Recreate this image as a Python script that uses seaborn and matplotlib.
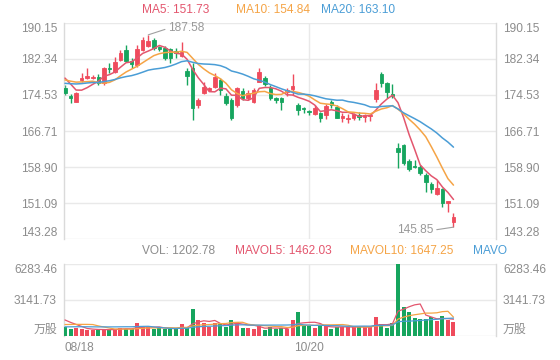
import numpy as np
import pandas as pd
import matplotlib
matplotlib.use("Agg")
import matplotlib.pyplot as plt
import seaborn as sns

# ---------------- data ----------------
opens = [176.12, 174.32, 173.09, 177.78, 178.15, 178.15, 178.51, 177.06, 180.46, 179.59,
         182.12, 184.29, 181.91, 181.04, 184.29, 185.23, 186.46, 185.02, 184.80, 184.51,
         184.08, 183.06, 179.74, 180.32, 172.36, 174.89, 175.62, 176.34, 177.78, 174.39,
         173.45, 172.36, 175.40, 173.81, 173.09, 177.42, 178.15, 175.98, 173.81, 173.81,
         175.20, 175.83, 172.36, 171.64, 171.06, 170.34, 170.70, 170.19, 173.09, 172.00,
         169.62, 169.33, 169.47, 170.19, 169.83, 170.05, 173.66, 179.02, 177.06, 174.68,
         163.11, 163.69, 160.22, 159.20, 158.99, 157.18, 155.15, 152.99, 154.14, 151.03,
         147.06]
closes = [174.89, 173.81, 174.89, 178.29, 178.73, 178.51, 177.06, 180.32, 180.10, 181.62,
          183.71, 181.91, 181.18, 184.51, 186.46, 186.25, 184.65, 184.51, 182.49, 182.49,
          183.71, 183.93, 178.73, 171.64, 173.45, 176.34, 176.12, 178.51, 175.62, 172.72,
          169.47, 175.98, 173.81, 174.89, 175.62, 179.59, 176.85, 173.81, 173.45, 173.09,
          175.70, 176.56, 171.28, 171.50, 170.77, 171.64, 169.62, 172.22, 172.36, 169.62,
          170.05, 169.62, 170.34, 169.83, 170.19, 170.19, 175.62, 177.06, 175.11, 174.39,
          162.10, 159.71, 158.48, 158.99, 157.54, 155.73, 154.14, 154.43, 151.03, 151.54,
          148.14]
highs = [176.70, 174.68, 175.26, 179.23, 180.32, 178.87, 179.02, 180.68, 181.40, 182.85,
         184.29, 185.38, 182.49, 185.38, 187.20, 187.58, 186.82, 185.23, 185.23, 184.80,
         184.80, 185.96, 180.32, 181.40, 173.81, 177.28, 176.34, 179.23, 178.15, 174.89,
         173.81, 176.34, 175.98, 175.62, 175.98, 180.46, 178.65, 176.70, 174.17, 174.17,
         176.10, 179.02, 172.72, 172.00, 171.28, 172.36, 170.92, 172.51, 173.45, 172.36,
         170.55, 170.34, 170.55, 170.77, 170.34, 170.34, 177.06, 179.45, 177.42, 176.85,
         164.05, 163.83, 160.58, 160.43, 159.35, 157.54, 155.73, 156.09, 154.43, 151.54,
         148.86]
lows = [174.53, 172.72, 172.94, 177.42, 178.00, 178.00, 176.70, 176.70, 179.23, 179.23,
        181.91, 181.62, 180.32, 180.68, 184.08, 185.02, 184.29, 184.08, 182.12, 181.40,
        182.63, 182.85, 176.70, 169.11, 171.64, 174.68, 175.40, 175.98, 174.53, 172.36,
        169.11, 172.00, 173.45, 173.45, 172.72, 177.28, 176.56, 173.45, 172.72, 171.28,
        174.40, 174.53, 170.19, 170.55, 170.19, 170.19, 168.75, 169.33, 171.64, 169.47,
        168.75, 168.39, 169.11, 169.11, 168.75, 168.90, 173.09, 176.34, 173.81, 173.81,
        158.63, 159.35, 158.05, 158.63, 157.18, 153.56, 153.20, 152.84, 150.31, 149.23,
        145.85]
volumes = [760, 650, 700, 620, 560, 480, 500, 650, 560, 620,
           700, 650, 600, 1100, 800, 780, 580, 700, 650, 640,
           600, 1020, 680, 2360, 1420, 1150, 750, 1100, 1050, 800,
           1400, 1250, 700, 700, 650, 850, 520, 800, 620, 700,
           650, 1400, 2100, 900, 900, 700, 850, 900, 650, 800,
           800, 800, 850, 750, 750, 750, 1690, 1020, 730, 1100,
           6283.46, 2540, 2100, 1570, 1476, 1476.35, 1680, 1300, 1735, 1392.4,
           1202.78]
# sessions before the visible window (feed the moving averages only)
prior_closes = [175.5, 176.0, 176.8, 175.9, 176.5, 177.0, 176.2, 176.6, 176.1, 176.6,
                176.5, 177.0, 177.8, 178.2, 177.5, 180.2, 181.5, 178.4, 176.0]
prior_volumes = [620, 580, 640, 560, 600, 650, 570, 610, 590, 580,
                 560, 620, 640, 580, 600, 1700, 1600, 1500, 1440]

date_tick_pos = [0, 44]
date_tick_labels = ["08/18", "10/20"]
price_ticks = [143.28, 151.09, 158.90, 166.71, 174.53, 182.34, 190.15]
vol_ticks = [0, 3141.73, 6283.46]
vol_tick_labels = ["万股", "3141.73", "6283.46"]
ma_legend = ["MA5: 151.73", "MA10: 154.84", "MA20: 163.10"]
vol_legend = ["VOL: 1202.78", "MAVOL5: 1462.03", "MAVOL10: 1647.25", "MAVO"]
high_label = "187.58"
low_label = "145.85"

# ---------------- style ----------------
sns.set_theme(style="white")
plt.rcParams["font.family"] = ["Liberation Sans", "Noto Sans CJK SC", "DejaVu Sans"]

UP = "#ef4b5c"
DOWN = "#16a55e"
C5 = "#e3566e"
C10 = "#f5a446"
C20 = "#4a9dd6"
GRID = "#e9e9e9"
SPINE = "#dadada"
TXT = "#8c8c8c"
FS = 8.6

n = len(closes)
idx = np.arange(n)
npri = len(prior_closes)
cser = pd.Series(prior_closes + closes)
vser = pd.Series(prior_volumes + volumes)
ma = {w: cser.rolling(w).mean().iloc[npri:].to_numpy() for w in (5, 10, 20)}
mav = {w: vser.rolling(w).mean().iloc[npri:].to_numpy() for w in (5, 10, 20)}

o = np.array(opens); c = np.array(closes)
h = np.array(highs); l = np.array(lows)
colors = [UP if cc >= oo else DOWN for oo, cc in zip(o, c)]

W, H = 560, 360
fig = plt.figure(figsize=(W / 100, H / 100), dpi=100)
fig.patch.set_facecolor("white")

def rect(x0, y0, x1, y1):
    return [x0 / W, 1 - y1 / H, (x1 - x0) / W, (y1 - y0) / H]

ax = fig.add_axes(rect(64, 23, 496, 239))
axv = fig.add_axes(rect(64, 264, 496, 336))

xlim = (-0.18, 77.66)

def style_axis(a):
    a.set_xlim(*xlim)
    for s in ("top", "bottom"):
        a.spines[s].set_visible(False)
    for s in ("left", "right"):
        a.spines[s].set_color(SPINE)
        a.spines[s].set_linewidth(1)
    a.yaxis.grid(True, color=GRID, lw=1)
    a.xaxis.grid(False)
    a.set_axisbelow(True)
    a.axvline(44, color=GRID, lw=1, zorder=0)
    a.tick_params(axis="y", length=0, left=False, right=False, labelleft=True,
                  labelright=True, labelsize=FS, labelcolor=TXT, pad=5)

# ---- price panel ----
style_axis(ax)
ax.set_ylim(price_ticks[0], price_ticks[-1])
ax.set_yticks(price_ticks)
ax.set_yticklabels([f"{t:.2f}" for t in price_ticks])
ax.set_xticks([])

ax.vlines(idx, l, h, colors=colors, lw=1, zorder=2)
ax.bar(idx, np.abs(c - o), bottom=np.minimum(o, c), width=0.64, color=colors,
       edgecolor=colors, linewidth=0.6, zorder=3)

sns.lineplot(x=idx, y=ma[5], ax=ax, color=C5, lw=1.1, zorder=4)
sns.lineplot(x=idx, y=ma[10], ax=ax, color=C10, lw=1.1, zorder=4)
sns.lineplot(x=idx, y=ma[20], ax=ax, color=C20, lw=1.1, zorder=4)
ax.set_xlim(*xlim)
ax.set_ylim(price_ticks[0], price_ticks[-1])
ax.set_xlabel(""); ax.set_ylabel("")

ihi = int(np.argmax(h)); ilo = int(np.argmin(l))
ax.annotate(high_label, xy=(ihi, h[ihi]), xytext=(20, 6.5), textcoords="offset pixels",
            ha="left", va="center", fontsize=FS, color="#999999",
            arrowprops=dict(arrowstyle="-", color="#a0a0a0", lw=0.8, shrinkA=0, shrinkB=0,
                            relpos=(0, 0.5)))
ax.annotate(low_label, xy=(ilo, l[ilo]), xytext=(-20, -3), textcoords="offset pixels",
            ha="right", va="center", fontsize=FS, color="#999999",
            arrowprops=dict(arrowstyle="-", color="#a0a0a0", lw=0.8, shrinkA=0, shrinkB=0,
                            relpos=(1, 0.5)))

# ---- volume panel ----
style_axis(axv)
axv.set_ylim(vol_ticks[0], vol_ticks[-1])
axv.set_yticks(vol_ticks)
axv.set_yticklabels(vol_tick_labels)
axv.bar(idx, volumes, width=0.72, color=colors, linewidth=0, zorder=3)
sns.lineplot(x=idx, y=mav[5], ax=axv, color=C5, lw=0.9, zorder=4)
sns.lineplot(x=idx, y=mav[10], ax=axv, color=C10, lw=0.9, zorder=4)
sns.lineplot(x=idx, y=mav[20], ax=axv, color=C20, lw=0.9, zorder=4)
axv.set_xlim(*xlim)
axv.set_ylim(vol_ticks[0], vol_ticks[-1])
axv.set_xlabel(""); axv.set_ylabel("")
axv.set_xticks(date_tick_pos)
axv.set_xticklabels(date_tick_labels)
axv.tick_params(axis="x", length=0, bottom=False, labelsize=FS, labelcolor=TXT, pad=4)
axv.get_xticklabels()[0].set_ha("left")

# vertical alignment of edge labels
for a in (ax, axv):
    ticks = a.yaxis.get_major_ticks()
    for lab in (ticks[0].label1, ticks[0].label2):
        lab.set_va("bottom")
    for lab in (ticks[-1].label1, ticks[-1].label2):
        lab.set_va("top")

# ---- legends ----
for txt, col, x in zip(ma_legend, (C5, C10, C20), (142.5, 236, 321)):
    fig.text(x / W, 1 - 10 / H, txt, color=col, fontsize=FS, ha="left", va="center")
for txt, col, x in zip(vol_legend, (TXT, C5, C10, C20), (142.5, 235, 350, 473.5)):
    fig.text(x / W, 1 - 250.5 / H, txt, color=col, fontsize=FS, ha="left", va="center")

fig.savefig("out.png", dpi=100, facecolor="white")
